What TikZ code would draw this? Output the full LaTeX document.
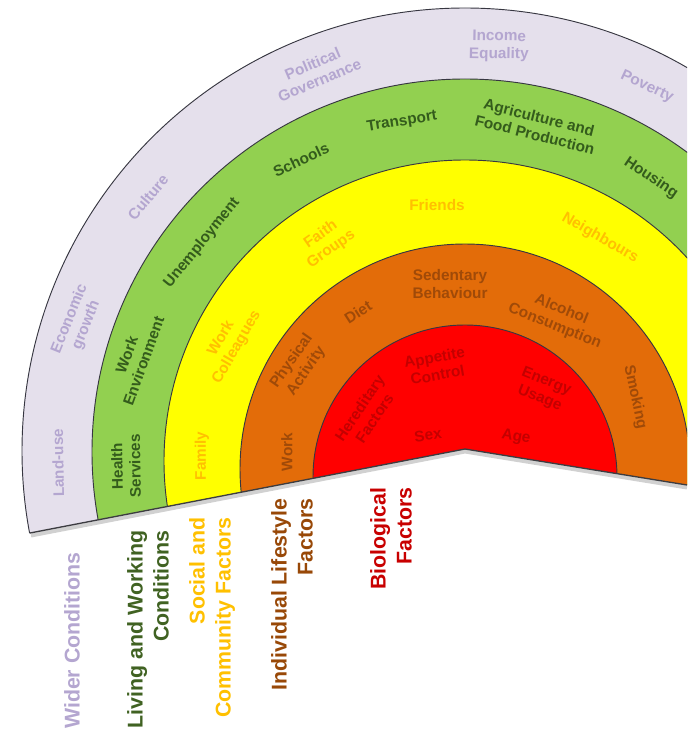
\documentclass[tikz,border=0pt]{standalone}
\usepackage{fontspec}
\setmainfont{Liberation Sans}

\tikzset{every picture/.style={line width=0.75pt}}
\tikzset{
  ring/.style={draw={rgb, 255:red, 55; green, 55; blue, 65}, line width=0.7},
  lbl/.style={inner sep=0.75pt, align=center, font=\fontsize{11.5}{13.4}\selectfont\bfseries},
  level/.style={inner sep=0pt, anchor=east, rotate=90, align=right, font=\fontsize{16}{19.5}\selectfont\bfseries},
  wider/.style={lbl, text={rgb, 255:red, 180; green, 166; blue, 208}},
  living/.style={lbl, text={rgb, 255:red, 52; green, 92; blue, 28}},
  social/.style={lbl, text={rgb, 255:red, 255; green, 192; blue, 0}},
  lifestyle/.style={lbl, text={rgb, 255:red, 160; green, 74; blue, 8}},
  biology/.style={lbl, text={rgb, 255:red, 196; green, 0; blue, 0}},
}

\begin{document}
\begin{tikzpicture}[x=0.75pt,y=0.75pt,yscale=-1,xscale=1]
\useasboundingbox (0,0) rectangle (687,731);

\begin{scope}
\clip (0,0) -- (687,0) -- (687,485) -- (465,449) -- (0,539) -- cycle;
%Shape: Circle (wider conditions)
\draw [ring, fill={rgb, 255:red, 229; green, 224; blue, 236}] (465,451) circle (443);
%Shape: Circle (living and working)
\draw [ring, fill={rgb, 255:red, 146; green, 208; blue, 80}] (465,452) circle (373);
%Shape: Circle (social and community)
\draw [ring, fill={rgb, 255:red, 255; green, 255; blue, 0}] (465,461) circle (301);
%Shape: Circle (lifestyle)
\draw [ring, fill={rgb, 255:red, 227; green, 108; blue, 9}] (465,469) circle (225);
%Shape: Circle (biological)
\draw [ring, fill={rgb, 255:red, 255; green, 0; blue, 0}] (465,477) circle (152);
\end{scope}

%Shape: bottom edge with shadow
\draw [color=black, opacity=0.18, line width=3] (31,535.5) -- (465,451.5) -- (687,487.5);
\draw [color={rgb, 255:red, 60; green, 60; blue, 65}, line width=1] (30,533) -- (465,449) -- (687,485);

% Text Node
\draw (58,463) node (landuse) [wider, rotate=91] {Land-use};
\draw (78,322) node (economic) [wider, rotate=68] {Economic\\growth};
\draw (148,197) node (culture) [wider, rotate=50] {Culture};
\draw (316,72) node (politics) [wider, rotate=23] {Political\\Governance};
\draw (499,46) node (income) [wider, rotate=-1] {Income\\Equality};
\draw (647,87) node (poverty) [wider, rotate=-25] {Poverty};

% Text Node
\draw (126,466) node (health) [living, rotate=91] {Health\\Services};
\draw (135,358) node (workenv) [living, rotate=70] {Work\\Environment};
\draw (202,243) node (unemploy) [living, rotate=51] {Unemployment};
\draw (301,160) node (schools) [living, rotate=25] {Schools};
\draw (402,122) node (transport) [living, rotate=9] {Transport};
\draw (537,126) node (agri) [living, rotate=-14] {Agriculture and\\Food Production};
\draw (651,178) node (housing) [living, rotate=-34] {Housing};

% Text Node
\draw (202,456) node (family) [social, rotate=90] {Family};
\draw (229,343) node (colleagues) [social, rotate=60] {Work\\Colleagues};
\draw (326,242) node (faith) [social, rotate=35] {Faith\\Groups};
\draw (437,205) node (friends) [social] {Friends};
\draw (600,238) node (neighbours) [social, rotate=-30] {Neighbours};

% Text Node
\draw (287,452) node (work) [lifestyle, rotate=90] {Work};
\draw (299,366) node (physical) [lifestyle, rotate=55] {Physical\\Activity};
\draw (358,312) node (diet) [lifestyle, rotate=33] {Diet};
\draw (450,284) node (sedentary) [lifestyle] {Sedentary\\Behaviour};
\draw (558,318) node (alcohol) [lifestyle, rotate=-22] {Alcohol\\Consumption};
\draw (635,397) node (smoking) [lifestyle, rotate=-78] {Smoking};

% Text Node
\draw (367,413) node (hereditary) [biology, rotate=56] {Hereditary\\Factors};
\draw (436,366) node (appetite) [biology, rotate=10] {Appetite\\Control};
\draw (543,390) node (energy) [biology, rotate=-22] {Energy\\Usage};
\draw (428,435) node (sex) [biology, rotate=8] {Sex};
\draw (516,437) node (age) [biology, rotate=-10] {Age};

% Level titles under the arcs
\draw (72,552) node (lvlwider) [level, text={rgb, 255:red, 180; green, 166; blue, 208}] {Wider Conditions};
\draw (148,530) node (lvlliving) [level, text={rgb, 255:red, 64; green, 98; blue, 34}] {Living and Working\\Conditions};
\draw (212,517) node (lvlsocial) [level, text={rgb, 255:red, 255; green, 192; blue, 0}] {Social and\\Community Factors};
\draw (292,498) node (lvllife) [level, text={rgb, 255:red, 152; green, 72; blue, 7}] {Individual Lifestyle\\Factors};
\draw (391,487) node (lvlbio) [level, text={rgb, 255:red, 200; green, 0; blue, 0}] {Biological\\Factors};

\end{tikzpicture}
\end{document}
